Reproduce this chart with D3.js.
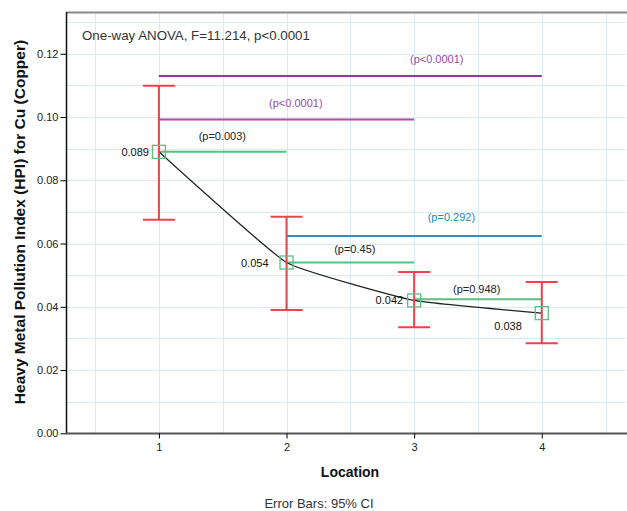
<!DOCTYPE html>
<html>
<head>
<meta charset="utf-8">
<script src="https://cdn.jsdelivr.net/npm/d3@7"></script>
<style>
    body { margin: 0; background: #fff; }
    svg { display: block; font-family: "Liberation Sans", Arial, sans-serif; }
</style>
</head>
<body>
<svg width="627" height="511"></svg>
<script>
// chart data
const locations = [1, 2, 3, 4];
const means = [0.089, 0.054, 0.042, 0.038];
const ciLower = [0.0675, 0.039, 0.0335, 0.0285];
const ciUpper = [0.1099, 0.0685, 0.051, 0.0478];
const meanLabels = ["0.089", "0.054", "0.042", "0.038"];
const yTicks = [0, 0.02, 0.04, 0.06, 0.08, 0.10, 0.12];

// pairwise comparisons: from, to, level, label and where the label sits
const compFrom = [1, 1, 1, 2, 2, 3];
const compTo = [4, 3, 2, 4, 3, 4];
const compLevel = [0.113, 0.0992, 0.089, 0.0624, 0.054, 0.0424];
const compLabels = ["(p<0.0001)", "(p<0.0001)", "(p=0.003)", "(p=0.292)", "(p=0.45)", "(p=0.948)"];
const compLabelX = [3.177, 2.073, 1.497, 3.292, 2.535, 3.49];
const compLabelY = [0.1184, 0.1044, 0.094, 0.0684, 0.0583, 0.0457];

const svg = d3.select("svg");

const x = d3.scaleLinear().domain([0.272, 4.66]).range([66, 626]);
const y = d3.scaleLinear().domain([0, 0.1332]).range([433.3, 12]);

const g = svg.append("g");

// grid
g.append("g")
    .selectAll("line")
    .data(d3.range(0.01, 0.135, 0.01))
    .enter().append("line")
    .attr("x1", 66).attr("x2", 626)
    .attr("y1", d => Math.round(y(d)) + 0.5)
    .attr("y2", d => Math.round(y(d)) + 0.5)
    .attr("stroke", "#d8e9f7");

g.append("g")
    .selectAll("line")
    .data(d3.range(0.5, 4.6, 0.5))
    .enter().append("line")
    .attr("x1", d => Math.round(x(d)) + 0.5)
    .attr("x2", d => Math.round(x(d)) + 0.5)
    .attr("y1", 12).attr("y2", 433)
    .attr("stroke", "#d8e9f7");

// frame
g.append("line")
    .attr("x1", 66).attr("x2", 627).attr("y1", 12.5).attr("y2", 12.5)
    .attr("stroke", "#888").attr("stroke-width", 2);

// axes
const yAxis = g.append("g")
    .attr("transform", "translate(66.5,0)")
    .call(d3.axisLeft(y).tickValues(yTicks).tickSize(6).tickPadding(2)
        .tickFormat(d3.format(".2f")));
yAxis.select(".domain").attr("d", "M0,12V434").attr("stroke", "#111").attr("stroke-width", 1.5);
yAxis.selectAll("text").attr("font-size", 11).attr("fill", "#222")
    .attr("font-family", "Liberation Sans, Arial, sans-serif");

const xAxis = g.append("g")
    .attr("transform", "translate(0,433.5)")
    .call(d3.axisBottom(x).tickValues(locations).tickSize(5).tickPadding(5)
        .tickFormat(d3.format("d")));
xAxis.select(".domain").attr("d", "M66,0H627").attr("stroke", "#555").attr("stroke-width", 2);
xAxis.selectAll("text").attr("font-size", 11).attr("fill", "#222")
    .attr("font-family", "Liberation Sans, Arial, sans-serif");

// comparison bars
const compColors = ["#8e3b9a", "#c0449a", "#5cbf7e", "#2e8fc0", "#5cbf7e", "#5cbf7e"];
const labelColors = ["#9a4aa6", "#9a4aa6", "#222", "#2e86b5", "#222", "#222"];
const comps = compFrom.map((f, i) => ({ from: f, to: compTo[i], level: compLevel[i], label: compLabels[i], i }));

g.append("g")
    .selectAll("line")
    .data(comps)
    .enter().append("line")
    .attr("x1", d => x(d.from))
    .attr("x2", d => x(d.to))
    .attr("y1", d => y(d.level))
    .attr("y2", d => y(d.level))
    .attr("stroke", d => compColors[d.i])
    .attr("stroke-width", 2);

g.append("g")
    .selectAll("text")
    .data(comps)
    .enter().append("text")
    .attr("x", d => x(compLabelX[d.i]))
    .attr("y", d => y(compLabelY[d.i]) + 4)
    .attr("text-anchor", "middle")
    .attr("font-size", 11)
    .attr("fill", d => labelColors[d.i])
    .text(d => d.label);

// mean line
const pts = locations.map((l, i) => [x(l), y(means[i])]);
g.append("path")
    .attr("d", d3.line().curve(d3.curveCardinal.tension(0.65))(pts))
    .attr("fill", "none")
    .attr("stroke", "#222")
    .attr("stroke-width", 1.2);

// error bars
const eb = g.append("g").attr("stroke", "#f0424c").attr("stroke-width", 2);
locations.forEach((l, i) => {
    eb.append("line").attr("x1", x(l)).attr("x2", x(l)).attr("y1", y(ciLower[i])).attr("y2", y(ciUpper[i]));
    eb.append("line").attr("x1", x(l) - 16).attr("x2", x(l) + 16).attr("y1", y(ciLower[i])).attr("y2", y(ciLower[i]));
    eb.append("line").attr("x1", x(l) - 16).attr("x2", x(l) + 16).attr("y1", y(ciUpper[i])).attr("y2", y(ciUpper[i]));
});

// mean markers
g.append("g")
    .selectAll("rect")
    .data(locations)
    .enter().append("rect")
    .attr("x", d => x(d) - 6.5)
    .attr("y", (d, i) => y(means[i]) - 6.5)
    .attr("width", 13).attr("height", 13)
    .attr("fill", "none")
    .attr("stroke", "#5cbf7e")
    .attr("stroke-width", 1.3);

// mean value labels
const labelDx = [-10, -18, -11, -20];
const labelDy = [4, 4, 4, 17];
g.append("g")
    .selectAll("text")
    .data(locations)
    .enter().append("text")
    .attr("x", (d, i) => x(d) + labelDx[i])
    .attr("y", (d, i) => y(means[i]) + labelDy[i])
    .attr("text-anchor", "end")
    .attr("font-size", 11)
    .attr("fill", "#111")
    .text((d, i) => meanLabels[i]);

// anova note
g.append("text")
    .attr("x", 82)
    .attr("y", 40)
    .attr("font-size", 13.3)
    .attr("fill", "#333")
    .text("One-way ANOVA, F=11.214, p<0.0001");

// titles
svg.append("text")
    .attr("x", 350).attr("y", 477)
    .attr("text-anchor", "middle")
    .attr("font-size", 14).attr("font-weight", "bold")
    .attr("fill", "#111")
    .text("Location");

svg.append("text")
    .attr("transform", "translate(25,222) rotate(-90)")
    .attr("text-anchor", "middle")
    .attr("font-size", 15.5).attr("font-weight", "bold")
    .attr("fill", "#111")
    .text("Heavy Metal Pollution Index (HPI) for Cu (Copper)");

svg.append("text")
    .attr("x", 319).attr("y", 508)
    .attr("text-anchor", "middle")
    .attr("font-size", 13)
    .attr("fill", "#333")
    .text("Error Bars: 95% CI");
</script>
</body>
</html>
